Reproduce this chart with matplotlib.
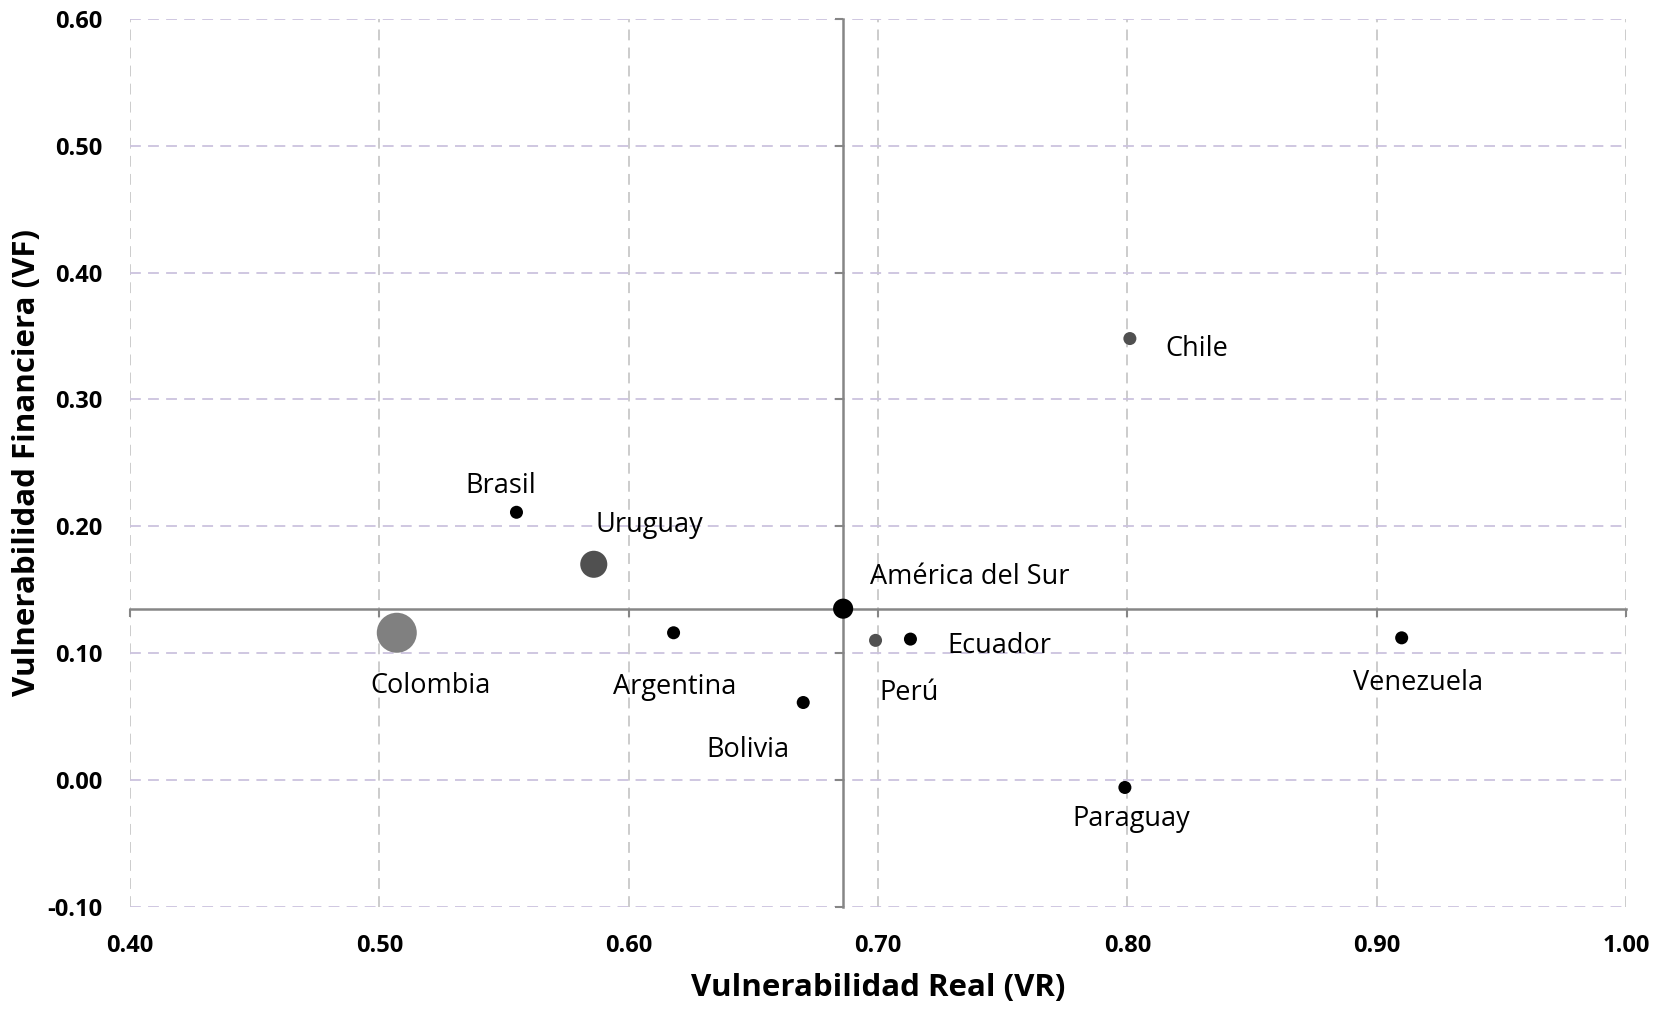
import numpy as np
import matplotlib.pyplot as plt

# data
paises = ['Brasil', 'Uruguay', 'Colombia', 'Argentina', 'Bolivia', 'América del Sur',
          'Perú', 'Ecuador', 'Paraguay', 'Chile', 'Venezuela']
vr = [0.555, 0.586, 0.507, 0.618, 0.670, 0.686, 0.699, 0.713, 0.799, 0.801, 0.910]
vf = [0.211, 0.170, 0.116, 0.116, 0.061, 0.135, 0.110, 0.111, -0.006, 0.348, 0.112]

# media regional (cruce de ejes)
vr_media = 0.686
vf_media = 0.135

# estilo de cada punto
tam = [88, 380, 830, 88, 88, 210, 88, 88, 88, 88, 88]
col = ['#000000', '#505050', '#808080', '#000000', '#000000', '#000000',
       '#505050', '#000000', '#000000', '#505050', '#000000']
# desplazamiento de las etiquetas (pixeles)
off = [(-16, 19), (56, 32), (34, -60), (1, -61), (-55, -54), (127, 25),
       (34, -60), (89, -14), (6, -39), (67, -17), (16, -52)]

plt.rcParams['font.family'] = ['Open Sans', 'DejaVu Sans']

fig = plt.figure(figsize=(16.75, 10.09), dpi=100)
pos = [0.0776, 0.1014, 0.8932, 0.8798]
ax = fig.add_axes(pos)

xt = np.arange(0.40, 1.001, 0.10)
yt = np.arange(-0.10, 0.601, 0.10)

ax.set_xlim(0.40, 1.00)
ax.set_ylim(-0.10, 0.60)
ax.set_xticks(xt)
ax.set_yticks(yt)

ax.xaxis.grid(True, color='#c8c8c8', ls=(0, (6, 4)), lw=1.3)
ax.yaxis.grid(True, color='#cbc3de', ls=(0, (6, 4)), lw=1.3)
ax.set_axisbelow(True)

for s in ['top', 'right']:
    ax.spines[s].set_visible(False)
ax.spines['left'].set_position(('data', vr_media))
ax.spines['bottom'].set_position(('data', vf_media))
for s in ['left', 'bottom']:
    ax.spines[s].set_color('#868686')
    ax.spines[s].set_linewidth(1.8)
ax.tick_params(axis='both', direction='out', length=6, width=1.5, color='#868686',
               labelleft=False, labelbottom=False)

ax.scatter(vr, vf, s=tam, c=col, zorder=3, linewidths=0)

for i in range(len(paises)):
    ax.annotate(paises[i], (vr[i], vf[i]), xytext=off[i], textcoords='offset pixels',
                ha='center', va='baseline', fontsize=19.5, color='black')

# etiquetas de los ejes en los bordes
ax2 = fig.add_axes(pos, frameon=False)
ax2.set_xlim(0.40, 1.00)
ax2.set_ylim(-0.10, 0.60)
ax2.set_xticks(xt)
ax2.set_yticks(yt)
ax2.set_xticklabels(['%.2f' % v for v in xt], fontweight='bold', fontsize=17)
ax2.set_yticklabels(['%.2f' % v for v in yt], fontweight='bold', fontsize=17)
ax2.tick_params(length=0)
ax2.tick_params(axis='x', pad=20)
ax2.tick_params(axis='y', pad=20)
ax2.set_xlabel('Vulnerabilidad Real (VR)', fontsize=22.5, fontweight='bold', color='black', va='center')
ax2.set_ylabel('Vulnerabilidad Financiera (VF)', fontsize=22.5, fontweight='bold', color='black', va='center')
ax2.xaxis.set_label_coords(0.5, -0.0916)
ax2.yaxis.set_label_coords(-0.0689, 0.5)
ax2.patch.set_visible(False)

fig.savefig('out.png', dpi=100)
